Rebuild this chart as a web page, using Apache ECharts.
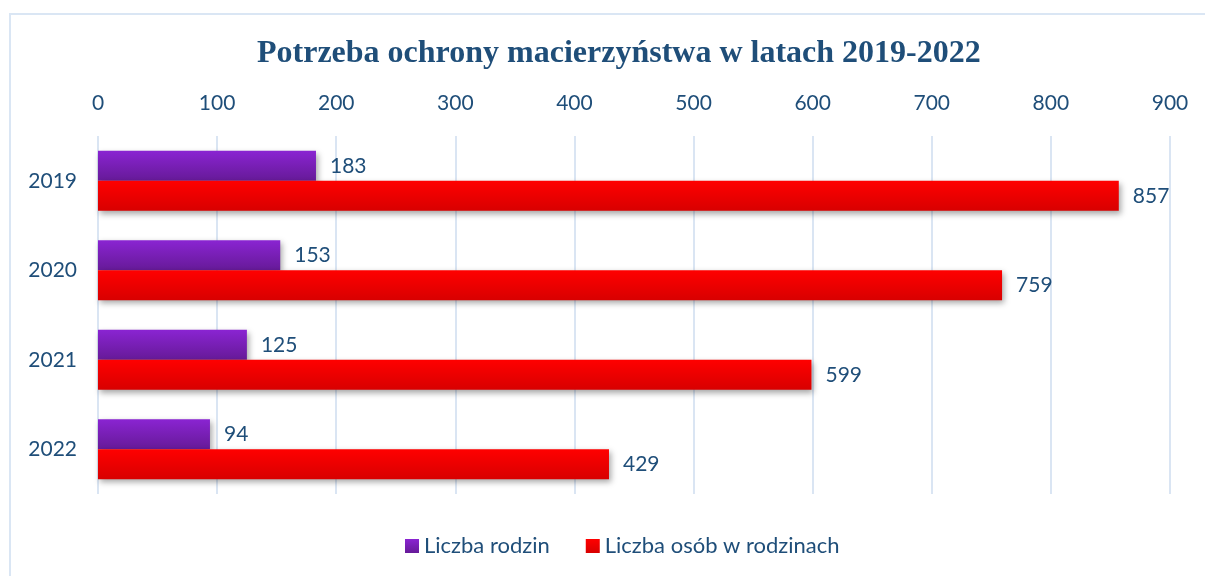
<!DOCTYPE html>
<html>
<head>
<meta charset="utf-8">
<script src="https://cdn.jsdelivr.net/npm/echarts@6/dist/echarts.min.js"></script>
<style>html,body{margin:0;padding:0;background:#fff;}#c{width:1205px;height:576px;}</style>
</head>
<body>
<div id="c"></div>
<script>
var categories = ['2019', '2020', '2021', '2022'];
var families = [183, 153, 125, 94];
var persons = [857, 759, 599, 429];
var seriesNames = ['Liczba rodzin', 'Liczba osób w rodzinach'];
var titleText = 'Potrzeba ochrony macierzyństwa w latach 2019-2022';

var txt = '#1F4E79';
var font = 'Lato, "Open Sans", sans-serif';
var chart = echarts.init(document.getElementById('c'));
function grad(a, b) {
  return new echarts.graphic.LinearGradient(0, 0, 0, 1, [{offset: 0, color: a}, {offset: 1, color: b}]);
}
var shadow = {shadowColor: 'rgba(0,0,0,0.35)', shadowBlur: 6, shadowOffsetX: 2, shadowOffsetY: 3};
chart.setOption({
  animation: false,
  graphic: [{
    type: 'rect', shape: {x: 10, y: 14, width: 1230, height: 600},
    style: {fill: 'none', stroke: '#DAE6F4', lineWidth: 2}, silent: true
  }],
  title: {
    text: titleText, left: 252, top: 33,
    textStyle: {fontFamily: '"Liberation Serif", "Times New Roman", serif', fontWeight: 'bold', fontSize: 32, color: txt}
  },
  legend: {
    bottom: 14, left: 400, itemWidth: 14, itemHeight: 14, itemGap: 36,
    icon: 'rect',
    textStyle: {fontFamily: font, fontSize: 22, color: txt},
    data: seriesNames
  },
  grid: {left: 98, right: 35, top: 136, bottom: 82, containLabel: false},
  xAxis: {
    type: 'value', position: 'top', min: 0, max: 900, interval: 100,
    axisLine: {show: false}, axisTick: {show: false},
    axisLabel: {fontFamily: font, fontSize: 21, color: txt, margin: 22},
    splitLine: {lineStyle: {color: '#DAE5F3', width: 2}}
  },
  yAxis: {
    type: 'category', data: categories, inverse: true,
    axisLine: {show: false}, axisTick: {show: false},
    axisLabel: {fontFamily: font, fontSize: 21, color: txt, margin: 21}
  },
  series: [{
    name: seriesNames[0], type: 'bar', data: families,
    barGap: '0%', barCategoryGap: '33%',
    itemStyle: Object.assign({color: grad('#8A24D2', '#661A98')}, shadow),
    label: {show: true, position: 'right', distance: 14, fontFamily: font, fontSize: 21, color: txt}
  }, {
    name: seriesNames[1], type: 'bar', data: persons,
    itemStyle: Object.assign({color: grad('#FF0000', '#D80000')}, shadow),
    label: {show: true, position: 'right', distance: 14, fontFamily: font, fontSize: 21, color: txt}
  }]
});
</script>
</body>
</html>
